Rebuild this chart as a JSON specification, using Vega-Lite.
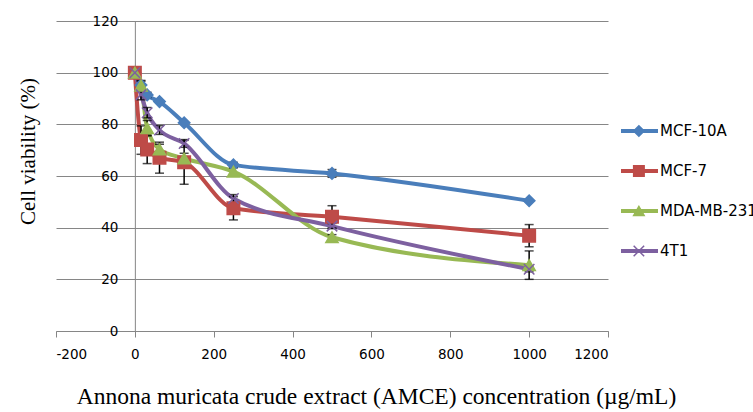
{
  "$schema": "https://vega.github.io/schema/vega-lite/v6.json",
  "width": 552,
  "height": 310,
  "autosize": {"type": "none"},
  "padding": {"left": 56, "top": 21, "right": 145, "bottom": 81},
  "background": "white",
  "config": {
    "view": {"stroke": null},
    "axis": {"labelFont": "DejaVu Sans", "labelFontSize": 13.5, "labelColor": "black", "titleFont": "Liberation Serif", "titleFontSize": 21, "titleFontWeight": "normal", "titleColor": "black"}
  },
  "data": {
    "values": [
      {"series": "MCF-10A", "s": "MCF-10A", "x": 0, "v": 100},
      {"series": "MCF-10A", "s": "MCF-10A", "x": 15.625, "v": 95.2, "err": 1.5},
      {"series": "MCF-10A", "s": "MCF-10A", "x": 31.25, "v": 91.4, "err": 1},
      {"series": "MCF-10A", "s": "MCF-10A", "x": 62.5, "v": 88.8},
      {"series": "MCF-10A", "s": "MCF-10A", "x": 125, "v": 80.6},
      {"series": "MCF-10A", "s": "MCF-10A", "x": 250, "v": 64.3, "err": 1},
      {"series": "MCF-10A", "s": "MCF-10A", "x": 500, "v": 61, "err": 1.5},
      {"series": "MCF-10A", "s": "MCF-10A", "x": 1000, "v": 50.4},
      {"series": "MCF-7", "s": "MCF-7", "x": 0, "v": 100},
      {"series": "MCF-7", "s": "MCF-7", "x": 15.625, "v": 73.9, "err": 5.5},
      {"series": "MCF-7", "s": "MCF-7", "x": 31.25, "v": 70.3, "err": 5.5},
      {"series": "MCF-7", "s": "MCF-7", "x": 62.5, "v": 67.1, "err": 6},
      {"series": "MCF-7", "s": "MCF-7", "x": 125, "v": 65.3, "err": 8.5},
      {"series": "MCF-7", "s": "MCF-7", "x": 250, "v": 47.5, "err": 4.5},
      {"series": "MCF-7", "s": "MCF-7", "x": 500, "v": 44.2, "err": 4.3},
      {"series": "MCF-7", "s": "MCF-7", "x": 1000, "v": 36.9, "err": 4.3},
      {"series": "MDA-MB-231", "s": "MDA-MB-231", "x": 0, "v": 100},
      {"series": "MDA-MB-231", "s": "MDA-MB-231", "x": 15.625, "v": 95, "err": 2},
      {"series": "MDA-MB-231", "s": "MDA-MB-231", "x": 31.25, "v": 78.5, "err": 3},
      {"series": "MDA-MB-231", "s": "MDA-MB-231", "x": 62.5, "v": 70.3, "err": 2},
      {"series": "MDA-MB-231", "s": "MDA-MB-231", "x": 125, "v": 66.8, "err": 2},
      {"series": "MDA-MB-231", "s": "MDA-MB-231", "x": 250, "v": 61.7, "err": 1.5},
      {"series": "MDA-MB-231", "s": "MDA-MB-231", "x": 500, "v": 36.3, "err": 1},
      {"series": "MDA-MB-231", "s": "MDA-MB-231", "x": 1000, "v": 25.5, "err": 5.5},
      {"series": "4T1", "s": "4T1", "x": 0, "v": 100},
      {"series": "4T1", "s": "4T1", "x": 15.625, "v": 91.5, "err": 2},
      {"series": "4T1", "s": "4T1", "x": 31.25, "v": 84.5, "err": 2},
      {"series": "4T1", "s": "4T1", "x": 62.5, "v": 77.8, "err": 1.7},
      {"series": "4T1", "s": "4T1", "x": 125, "v": 72.6, "err": 1.5},
      {"series": "4T1", "s": "4T1", "x": 250, "v": 51.3, "err": 1.5},
      {"series": "4T1", "s": "4T1", "x": 500, "v": 40.6, "err": 1},
      {"series": "4T1", "s": "4T1", "x": 1000, "v": 23.9, "err": 1}
    ]
  },
  "encoding": {
    "x": {
      "field": "x", "type": "quantitative",
      "scale": {"domain": [-200, 1200], "nice": false, "zero": false},
      "axis": {
        "values": [-200, 0, 200, 400, 600, 800, 1000, 1200],
        "labelExpr": "datum.value < 0 ? '-' + abs(datum.value) : '' + datum.value",
        "grid": false,
        "domainColor": "#868686", "tickColor": "#868686", "tickSize": 6, "labelPadding": 10,
        "title": "Annona muricata crude extract (AMCE) concentration (µg/mL)",
        "titleFontSize": 23.5, "titleX": 320, "titleY": 72, "titleBaseline": "alphabetic", "titleAlign": "center"
      }
    },
    "y": {
      "field": "v", "type": "quantitative",
      "scale": {"domain": [0, 120], "nice": false},
      "axis": {
        "values": [0, 20, 40, 60, 80, 100, 120],
        "offset": -78.86, "grid": true, "gridColor": "#868686", "gridWidth": 1,
        "domainColor": "#868686", "ticks": false, "labelPadding": 17,
        "title": "Cell viability (%)",
        "titleX": -100, "titleY": 130, "titleBaseline": "alphabetic", "titleAlign": "center", "titleAngle": -90
      }
    }
  },
  "resolve": {"legend": {"color": "independent", "shape": "independent", "fill": "independent", "stroke": "independent"}},
  "layer": [
    {
      "mark": {"type": "line", "interpolate": "monotone", "strokeWidth": 4},
      "encoding": {
        "color": {
          "field": "series", "type": "nominal",
          "scale": {"domain": ["MCF-10A", "MCF-7", "MDA-MB-231", "4T1"], "range": ["#4A7EBB", "#BE4B48", "#98B954", "#7D60A0"]},
          "legend": {
            "orient": "none", "legendX": 563, "legendY": 90, "title": null, "padding": 0,
            "labelFont": "DejaVu Sans", "labelFontSize": 15, "labelColor": "black",
            "labelOffset": 0, "rowPadding": 0, "clipHeight": 40,
            "symbolType": "stroke", "symbolSize": 1369, "symbolStrokeWidth": 4
          }
        }
      }
    },
    {
      "transform": [{"filter": "datum.err > 0"}],
      "mark": {"type": "errorbar", "ticks": {"size": 9, "thickness": 1.5, "color": "black"}, "rule": {"strokeWidth": 1.5, "color": "black"}, "color": "black"},
      "encoding": {
        "yError": {"field": "err"},
        "detail": {"field": "s", "type": "nominal"}
      }
    },
    {
      "mark": {"type": "point", "opacity": 1, "strokeWidth": 1.5},
      "encoding": {
        "fill": {"field": "s", "type": "nominal", "scale": {"domain": ["MCF-10A", "MCF-7", "MDA-MB-231", "4T1", "none"], "range": ["#4A7EBB", "#BE4B48", "#98B954", "#7D60A0", "#000000"]}, "legend": null},
        "stroke": {"field": "s", "type": "nominal", "scale": {"domain": ["MCF-10A", "MCF-7", "MDA-MB-231", "4T1", "none"], "range": ["#4A7EBB", "#BE4B48", "#98B954", "#7D60A0", "#000000"]}, "legend": null},
        "shape": {
          "field": "s", "type": "nominal",
          "scale": {"domain": ["MCF-10A", "MCF-7", "MDA-MB-231", "4T1", "none"], "range": ["diamond", "square", "triangle-up", "M-1,-1L1,1M-1,1L1,-1", "circle"]},
          "legend": {
            "orient": "none", "legendX": 575.4, "legendY": 90, "title": null, "padding": 0,
            "values": ["MCF-10A", "MCF-7", "MDA-MB-231", "4T1"],
            "labelExpr": "''", "labelFontSize": 15,
            "labelOffset": 4, "rowPadding": 0, "clipHeight": 40,
            "symbolSize": 110, "symbolStrokeWidth": 1.5
          }
        },
        "size": {"field": "s", "type": "nominal", "scale": {"type": "ordinal", "domain": ["MCF-10A", "MCF-7", "MDA-MB-231", "4T1"], "range": [132, 156, 150, 110]}, "legend": null}
      }
    }
  ]
}
